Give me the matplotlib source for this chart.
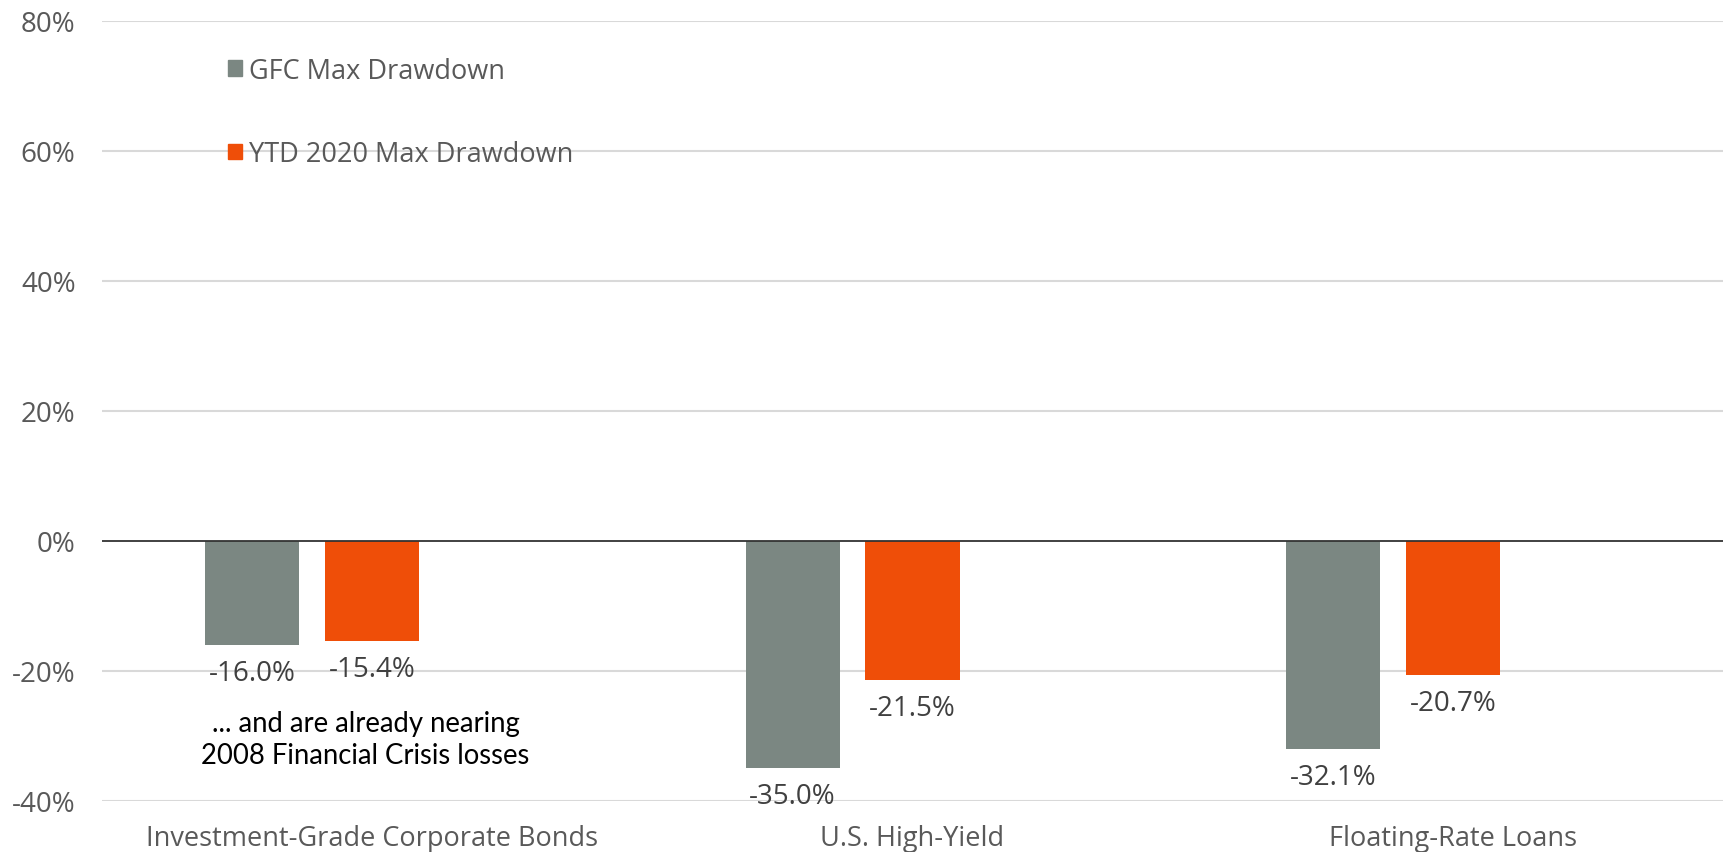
import numpy as np
import matplotlib.pyplot as plt
from matplotlib.patches import Patch

categories = ['Investment-Grade Corporate Bonds', 'U.S. High-Yield', 'Floating-Rate Loans']
gfc_drawdown = [-16.0, -35.0, -32.1]
ytd2020_drawdown = [-15.4, -21.5, -20.7]
series_names = ['GFC Max Drawdown', 'YTD 2020 Max Drawdown']
yticks = [-40, -20, 0, 20, 40, 60, 80]

gray = '#7b8782'
orange = '#ef4e08'
txt = '#595959'

plt.rcParams['font.family'] = ['Open Sans', 'DejaVu Sans']

fig = plt.figure(figsize=(17.31, 8.53), dpi=100)
ax = fig.add_axes([0.0589, 0.0601, 0.9365, 0.9145])

x = np.arange(len(categories))
w = 0.174
b1 = ax.bar(x - 0.222, gfc_drawdown, w, color=gray, zorder=3)
b2 = ax.bar(x, ytd2020_drawdown, w, color=orange, zorder=3)

# value labels under each bar
for bars, vals in [(b1, gfc_drawdown), (b2, ytd2020_drawdown)]:
    for r, v in zip(bars, vals):
        ax.annotate(f'{v:.1f}%', (r.get_x() + r.get_width() / 2, v),
                    xytext=(0, -10), textcoords='offset points',
                    ha='center', va='top', fontsize=20, color='#404040')

ax.set_xlim(-0.5, 2.5)
ax.set_ylim(-40, 80)
ax.set_yticks(yticks)
ax.set_yticklabels([f'{t}%' for t in yticks])
ax.set_xticks(x)
ax.set_xticklabels(categories)
ax.tick_params(axis='y', length=0, pad=19, labelsize=20, labelcolor=txt)
ax.tick_params(axis='x', length=0, pad=17, labelsize=19.5, labelcolor=txt)
for s in ax.spines.values():
    s.set_visible(False)
for t in yticks:
    if t != 0:
        ax.axhline(t, color='#d9d9d9', lw=1.5, zorder=1)
ax.axhline(0, color='#333333', lw=1.3, zorder=4)

ax.text(-0.012, -30.5, '... and are already nearing\n2008 Financial Crisis losses',
        ha='center', va='center', fontsize=19.8, family=['Lato', 'DejaVu Sans'],
        color='black', linespacing=1.3)

handles = [Patch(color=gray), Patch(color=orange)]
ax.legend(handles, series_names, loc='upper left', bbox_to_anchor=(0.063, 0.985),
          frameon=False, fontsize=19.5, labelcolor=txt, handlelength=0.5,
          handleheight=0.5, handletextpad=0.25, labelspacing=2.05)

fig.savefig('out.png', dpi=100)
